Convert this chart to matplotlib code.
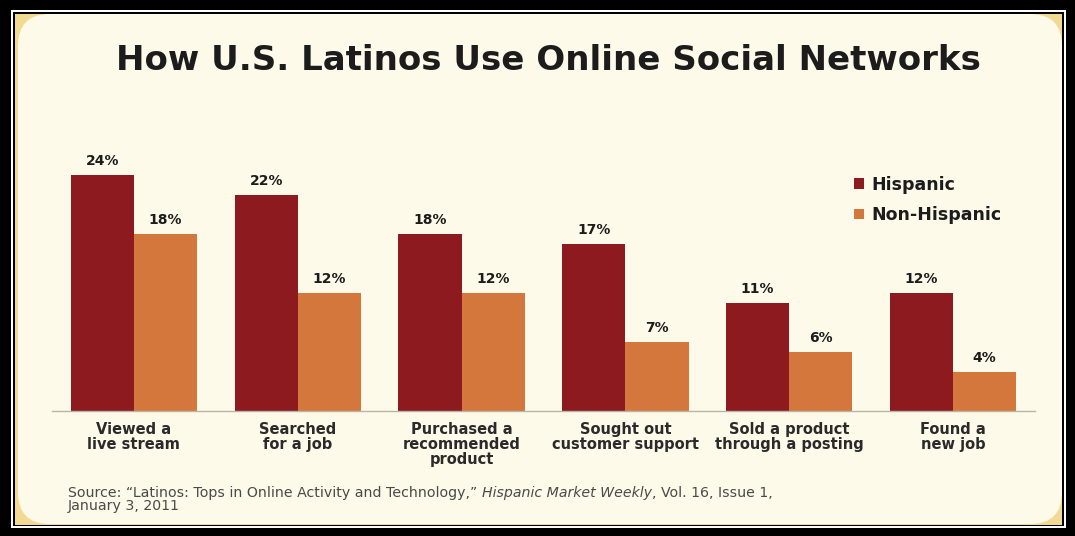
import numpy as np
import matplotlib.pyplot as plt
from matplotlib.patches import Rectangle, FancyBboxPatch

categories = ["Viewed a\nlive stream", "Searched\nfor a job", "Purchased a\nrecommended\nproduct",
              "Sought out\ncustomer support", "Sold a product\nthrough a posting", "Found a\nnew job"]
hispanic = [24, 22, 18, 17, 11, 12]
non_hispanic = [18, 12, 12, 7, 6, 4]

dark_red = "#8C1A1E"
orange = "#D4773C"
text_col = "#1c1c1c"
font = "DejaVu Sans"

W, H = 1075, 536
fig = plt.figure(figsize=(W / 100, H / 100), dpi=100)
fig.patch.set_facecolor("black")

# background frame drawn in pixel units
bg = fig.add_axes([0, 0, 1, 1], zorder=0)
bg.set_xlim(0, W)
bg.set_ylim(H, 0)
bg.axis("off")
bg.add_patch(Rectangle((11, 10), 1055, 518, fc="white", ec="none"))
bg.add_patch(Rectangle((13, 12), 1051, 514, fc="black", ec="none"))
bg.add_patch(Rectangle((15, 14), 1047, 511, fc="#F2DA95", ec="none"))
bg.add_patch(FancyBboxPatch((50, 46), 980, 446, boxstyle="round,pad=32,rounding_size=32",
                            fc="#FDFAE9", ec="none"))

# title
bg.text(548, 60, "How U.S. Latinos Use Online Social Networks", ha="center", va="center",
        fontsize=24.5, fontweight="bold", color=text_col, family=font)

# bar chart
ax = fig.add_axes([52 / W, 125 / H, (1035 - 52) / W, 255.6 / H], zorder=1)
ax.set_facecolor("none")
x = np.arange(len(categories))
w = 0.386
b1 = ax.bar(x - w / 2, hispanic, w, color=dark_red, label="Hispanic")
b2 = ax.bar(x + w / 2, non_hispanic, w, color=orange, label="Non-Hispanic")
for bars, vals in ((b1, hispanic), (b2, non_hispanic)):
    for bar, v in zip(bars, vals):
        ax.annotate(f"{v}%", (bar.get_x() + bar.get_width() / 2, v), xytext=(0, 5),
                    textcoords="offset points", ha="center", va="bottom",
                    fontsize=10, fontweight="bold", color=text_col, family=font)

ax.set_xlim(-0.5, 5.5)
ax.set_ylim(0, 26)
ax.set_xticks(x)
ax.set_xticklabels(categories, fontsize=10.5, fontweight="bold", color="#2a2a2a",
                   family=font, linespacing=1.0)
ax.tick_params(axis="x", length=0, pad=8)
ax.set_yticks([])
for s in ("top", "right", "left"):
    ax.spines[s].set_visible(False)
ax.spines["bottom"].set_color("#b8b5a8")
ax.spines["bottom"].set_linewidth(1)

ax.legend(loc="upper left", bbox_to_anchor=(838 / W, 1 - 160 / H), bbox_transform=fig.transFigure,
          frameon=False, handlelength=0.6, handleheight=0.55, handletextpad=0.45,
          labelspacing=0.72, prop={"family": font, "weight": "bold", "size": 12.5},
          labelcolor=text_col)

# source note with italic publication name
src_col = "#4a4a4a"
fs = 10.2
t1 = bg.text(68, 497, "Source: \u201cLatinos: Tops in Online Activity and Technology,\u201d ",
             fontsize=fs, color=src_col, family=font, va="baseline")
t2 = bg.annotate("Hispanic Market Weekly", xy=(1, 0), xycoords=t1, va="bottom",
                 fontsize=fs, color=src_col, family=font, style="italic")
bg.annotate(", Vol. 16, Issue 1,", xy=(1, 0), xycoords=t2, va="bottom",
            fontsize=fs, color=src_col, family=font)
bg.text(68, 510, "January 3, 2011", fontsize=fs, color=src_col, family=font, va="baseline")

fig.savefig("out.png", dpi=100, facecolor=fig.get_facecolor())
